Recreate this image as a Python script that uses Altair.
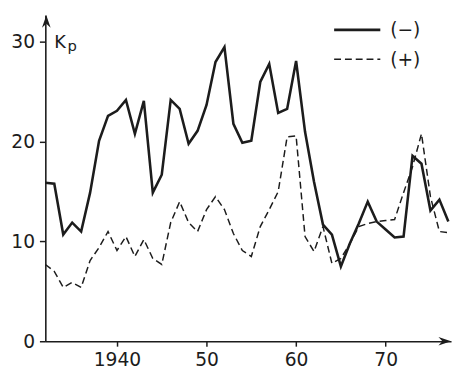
import altair as alt
import pandas as pd

# ---- data ----
years = list(range(1932, 1978))
kp_minus = [15.9, 15.8, 10.7, 11.9, 11.0, 14.9, 20.1, 22.6, 23.1, 24.2,
            20.8, 24.1, 14.9, 16.7, 24.2, 23.3, 19.8, 21.1, 23.7, 28.0,
            29.5, 21.8, 19.9, 20.1, 26.0, 27.8, 22.9, 23.3, 28.1, 21.0,
            16.0, 11.7, 10.7, 7.5, 9.8, 11.8, 14.0, 12.0, 11.2, 10.4,
            10.5, 18.6, 17.8, 13.1, 14.2, 12.0]
kp_plus = [7.7, 7.0, 5.4, 5.9, 5.4, 8.1, 9.4, 11.0, 9.1, 10.5,
           8.5, 10.2, 8.3, 7.7, 11.9, 14.0, 11.9, 11.0, 13.2, 14.5,
           13.2, 10.8, 9.1, 8.5, 11.5, 13.2, 15.0, 20.5, 20.6, 10.5,
           9.0, 11.5, 7.8, 8.3, 9.8, 11.5, 11.8, 12.0, 12.1, 12.2,
           14.9, 17.5, 20.8, 14.5, 11.0, 10.9]
series_labels = ["(−)", "(+)"]
x_ticks = [1940, 1950, 1960, 1970]
x_tick_labels = ["1940", "50", "60", "70"]
y_ticks = [0, 10, 20, 30]
y_title_main = "K"
y_title_sub = "p"

df = pd.DataFrame({
    "year": years + years,
    "kp": kp_minus + kp_plus,
    "series": [series_labels[0]] * len(years) + [series_labels[1]] * len(years),
})

# ---- layout ----
W, H = 413, 332
INK = "#1c1c1c"
FONT = "DejaVu Sans"
x_domain = [1932, 1977.3]
y_domain = [0, 32.7]

label_expr = " : ".join(
    f"datum.value == {v} ? '{l}'" for v, l in zip(x_ticks, x_tick_labels)
) + " : ''"

axis_style = dict(domainColor=INK, domainWidth=1.6, tickColor=INK, labelColor=INK,
                  labelFont=FONT, labelFontSize=19, grid=False, title=None)

x_enc = alt.X(
    "year:Q", scale=alt.Scale(domain=x_domain, nice=False, zero=False),
    axis=alt.Axis(values=x_ticks, labelExpr=label_expr, tickSize=5, tickWidth=1.5,
                  labelPadding=5, labelFlush=False, labelOverlap=False, **axis_style),
)
y_enc = alt.Y(
    "kp:Q", scale=alt.Scale(domain=y_domain, nice=False, zero=True),
    axis=alt.Axis(values=y_ticks, tickSize=6, tickWidth=1.5, labelPadding=5,
                  format="d", **axis_style),
)

base = alt.Chart(df)

solid = base.transform_filter(
    alt.datum.series == series_labels[0]
).mark_line(color=INK, strokeWidth=2.6, strokeJoin="miter").encode(x=x_enc, y=y_enc)

dashed = base.transform_filter(
    alt.datum.series == series_labels[1]
).mark_line(color=INK, strokeWidth=1.5, strokeDash=[7, 4], strokeJoin="miter").encode(
    x="year:Q", y="kp:Q"
)

one = alt.Data(values=[{"a": 1}])

# axis arrowheads (barbed symbols; symbol half-size s = sqrt(size)/2 = 8 px)
S = 8
arrow_up = alt.Chart(one).mark_point(
    shape="M0,-1L0.55,0.6L0,0.1L-0.55,0.6Z", filled=True, color=INK, size=4 * S * S,
    opacity=1, clip=False
).encode(x=alt.value(1), y=alt.value(S))
arrow_right = alt.Chart(one).mark_point(
    shape="M1,0L-0.6,-0.55L-0.1,0L-0.6,0.55Z", filled=True, color=INK, size=4 * S * S,
    opacity=1, clip=False
).encode(x=alt.value(W - S), y=alt.value(H))

# y-axis title K_p
k_text = alt.Chart(one).mark_text(
    text=y_title_main, font=FONT, fontSize=18, align="left", baseline="alphabetic", color=INK
).encode(x=alt.value(9), y=alt.value(33))
p_text = alt.Chart(one).mark_text(
    text=y_title_sub, font=FONT, fontSize=15, align="left", baseline="alphabetic", color=INK
).encode(x=alt.value(22.5), y=alt.value(36.5))

# manual legend
leg_solid = alt.Chart(one).mark_rule(color=INK, strokeWidth=2.6).encode(
    x=alt.value(294), x2=alt.value(341), y=alt.value(15))
leg_dash = alt.Chart(one).mark_rule(color=INK, strokeWidth=1.5, strokeDash=[7, 4]).encode(
    x=alt.value(294), x2=alt.value(341), y=alt.value(45))
leg_t1 = alt.Chart(one).mark_text(
    text=series_labels[0], font=FONT, fontSize=19, align="left", baseline="middle", color=INK
).encode(x=alt.value(351), y=alt.value(15.5))
leg_t2 = alt.Chart(one).mark_text(
    text=series_labels[1], font=FONT, fontSize=19, align="left", baseline="middle", color=INK
).encode(x=alt.value(351), y=alt.value(45.5))

chart = alt.layer(
    solid, dashed, arrow_up, arrow_right,
    k_text, p_text, leg_solid, leg_dash, leg_t1, leg_t2
).properties(
    width=W, height=H,
    autosize=alt.AutoSizeParams(type="none"),
    padding={"left": 38, "top": 4, "right": 2, "bottom": 26},
    background="white",
    view=alt.ViewBackground(stroke=None),
)

chart.save("out.html", embed_options={"renderer": "svg", "actions": False})
